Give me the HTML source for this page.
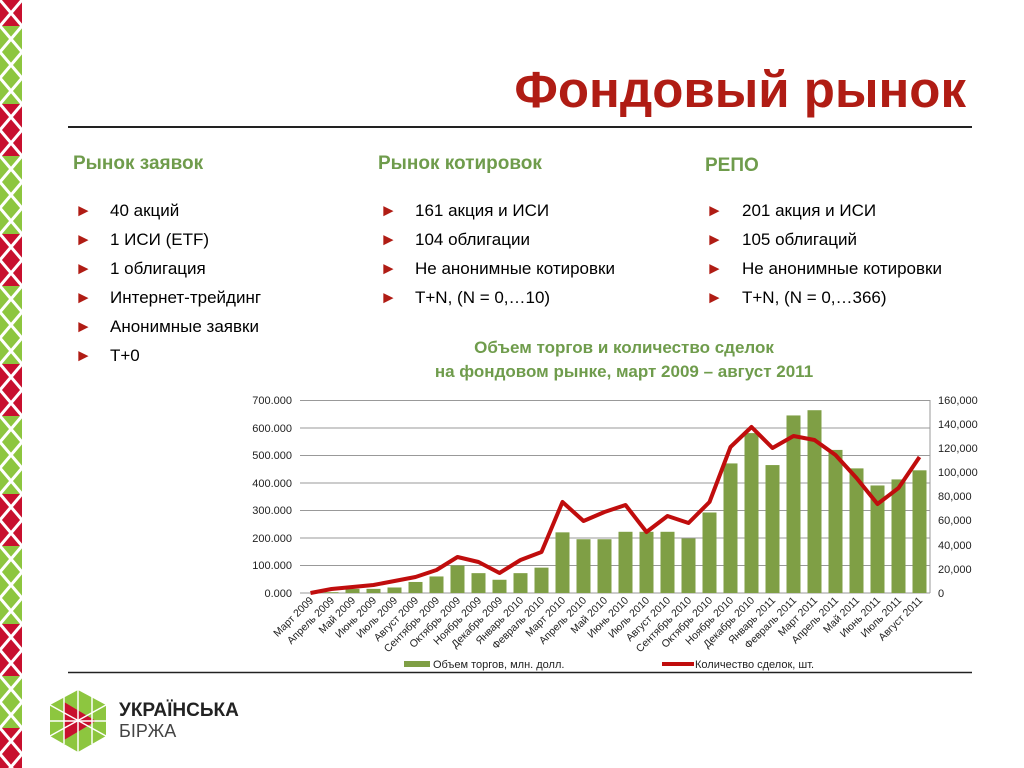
<!DOCTYPE html>
<html><head><meta charset="utf-8"><style>
body{margin:0;width:1024px;height:768px;overflow:hidden;background:#fff;font-family:"Liberation Sans",sans-serif;position:relative}
.t{position:absolute;white-space:nowrap}
.h{color:#6f9c4c;font-weight:bold;font-size:19px}
.li{font-size:17px;color:#000}
.b{color:#b01c14;font-size:17px;position:absolute}
</style></head><body>
<svg width="24" height="768" style="position:absolute;left:0;top:0">
<defs>
<pattern id="zz" width="24" height="52" patternUnits="userSpaceOnUse">
<polyline points="0,0 22,26 0,52" fill="none" stroke="#fff" stroke-width="3"/>
<polyline points="22,0 0,26 22,52" fill="none" stroke="#fff" stroke-width="3"/>
</pattern>
</defs>
<rect x="0" y="0" width="22" height="768" fill="#8dc63f"/>
<rect x="0" y="0" width="22" height="26" fill="#c8102e"/>
<rect x="0" y="104" width="22" height="52" fill="#c8102e"/>
<rect x="0" y="234" width="22" height="52" fill="#c8102e"/>
<rect x="0" y="364" width="22" height="52" fill="#c8102e"/>
<rect x="0" y="494" width="22" height="52" fill="#c8102e"/>
<rect x="0" y="624" width="22" height="52" fill="#c8102e"/>
<rect x="0" y="728" width="22" height="40" fill="#c8102e"/>
<rect x="0" y="0" width="22" height="768" fill="url(#zz)"/>
</svg>
<div class="t" style="right:58px;top:60px;font-size:51px;font-weight:bold;color:#b01c14">Фондовый рынок</div>
<div style="position:absolute;left:68px;top:126px;width:904px;height:2px;background:#222"></div>
<div class="t h" style="left:73px;top:153px">Рынок заявок</div>
<div class="t h" style="left:378px;top:153px">Рынок котировок</div>
<div class="t h" style="left:705px;top:155px">РЕПО</div>

<div class="b" style="left:75px;top:201px">►</div><div class="t li" style="left:110px;top:201px">40 акций</div>
<div class="b" style="left:75px;top:230px">►</div><div class="t li" style="left:110px;top:230px">1 ИСИ (ETF)</div>
<div class="b" style="left:75px;top:259px">►</div><div class="t li" style="left:110px;top:259px">1 облигация</div>
<div class="b" style="left:75px;top:288px">►</div><div class="t li" style="left:110px;top:288px">Интернет-трейдинг</div>
<div class="b" style="left:75px;top:317px">►</div><div class="t li" style="left:110px;top:317px">Анонимные заявки</div>
<div class="b" style="left:75px;top:346px">►</div><div class="t li" style="left:110px;top:346px">T+0</div>

<div class="b" style="left:380px;top:201px">►</div><div class="t li" style="left:415px;top:201px">161 акция и ИСИ</div>
<div class="b" style="left:380px;top:230px">►</div><div class="t li" style="left:415px;top:230px">104 облигации</div>
<div class="b" style="left:380px;top:259px">►</div><div class="t li" style="left:415px;top:259px">Не анонимные котировки</div>
<div class="b" style="left:380px;top:288px">►</div><div class="t li" style="left:415px;top:288px">T+N, (N = 0,…10)</div>

<div class="b" style="left:706px;top:201px">►</div><div class="t li" style="left:742px;top:201px">201 акция и ИСИ</div>
<div class="b" style="left:706px;top:230px">►</div><div class="t li" style="left:742px;top:230px">105 облигаций</div>
<div class="b" style="left:706px;top:259px">►</div><div class="t li" style="left:742px;top:259px">Не анонимные котировки</div>
<div class="b" style="left:706px;top:288px">►</div><div class="t li" style="left:742px;top:288px">T+N, (N = 0,…366)</div>

<div class="t" style="left:324px;width:600px;top:336px;text-align:center;color:#6f9c4c;font-weight:bold;font-size:17px;line-height:24px">Объем торгов и количество сделок<br>на фондовом рынке, март 2009 – август 2011</div>

<svg width="1024" height="768" style="position:absolute;left:0;top:0" font-family="Liberation Sans, sans-serif">
<g stroke="#999" stroke-width="1">
<line x1="300" x2="930" y1="400.5" y2="400.5"/><line x1="300" x2="930" y1="428" y2="428"/>
<line x1="300" x2="930" y1="455.5" y2="455.5"/><line x1="300" x2="930" y1="483" y2="483"/>
<line x1="300" x2="930" y1="510.5" y2="510.5"/><line x1="300" x2="930" y1="538" y2="538"/>
<line x1="300" x2="930" y1="565.5" y2="565.5"/><line x1="300" x2="930" y1="593" y2="593"/>
<line x1="930" x2="930" y1="400" y2="593"/>
</g>
<g font-size="11" fill="#222" text-anchor="end">
<text x="292" y="404">700.000</text><text x="292" y="432">600.000</text><text x="292" y="459">500.000</text>
<text x="292" y="487">400.000</text><text x="292" y="514">300.000</text><text x="292" y="542">200.000</text>
<text x="292" y="569">100.000</text><text x="292" y="597">0.000</text>
</g>
<g font-size="11" fill="#222">
<text x="938" y="404">160,000</text><text x="938" y="428">140,000</text><text x="938" y="452">120,000</text>
<text x="938" y="476">100,000</text><text x="938" y="500">80,000</text><text x="938" y="524">60,000</text>
<text x="938" y="549">40,000</text><text x="938" y="573">20,000</text><text x="938" y="597">0</text>
</g>
<g transform="translate(0,593) scale(1,-0.2757)" fill="#7f9f45">
<rect x="303.5" y="0" width="14" height="0"/><rect x="324.5" y="0" width="14" height="3"/>
<rect x="345.5" y="0" width="14" height="15"/><rect x="366.5" y="0" width="14" height="15"/>
<rect x="387.5" y="0" width="14" height="20"/><rect x="408.5" y="0" width="14" height="40"/>
<rect x="429.5" y="0" width="14" height="60"/><rect x="450.5" y="0" width="14" height="100"/>
<rect x="471.5" y="0" width="14" height="72"/><rect x="492.5" y="0" width="14" height="48"/>
<rect x="513.5" y="0" width="14" height="72"/><rect x="534.5" y="0" width="14" height="92"/>
<rect x="555.5" y="0" width="14" height="220"/><rect x="576.5" y="0" width="14" height="195"/>
<rect x="597.5" y="0" width="14" height="195"/><rect x="618.5" y="0" width="14" height="222"/>
<rect x="639.5" y="0" width="14" height="222"/><rect x="660.5" y="0" width="14" height="222"/>
<rect x="681.5" y="0" width="14" height="198"/><rect x="702.5" y="0" width="14" height="292"/>
<rect x="723.5" y="0" width="14" height="470"/><rect x="744.5" y="0" width="14" height="580"/>
<rect x="765.5" y="0" width="14" height="464"/><rect x="786.5" y="0" width="14" height="644"/>
<rect x="807.5" y="0" width="14" height="663"/><rect x="828.5" y="0" width="14" height="519"/>
<rect x="849.5" y="0" width="14" height="452"/><rect x="870.5" y="0" width="14" height="390"/>
<rect x="891.5" y="0" width="14" height="412"/><rect x="912.5" y="0" width="14" height="445"/>
</g>
<polyline fill="none" stroke="#c00d0d" stroke-width="4" stroke-linejoin="round" points="310.5,593 331.5,589 352.5,587 373.5,585 394.5,581 415.5,577 436.5,570 457.5,557 478.5,562 499.5,573 520.5,560 541.5,552 562.5,502 583.5,521 604.5,512 625.5,505 646.5,532 667.5,516 688.5,523 709.5,502 730.5,447 751.5,427 772.5,448 793.5,436 814.5,440 835.5,455 856.5,478 877.5,504 898.5,488 919.5,457"/>
<g font-size="10.5" fill="#222" text-anchor="end">
<text transform="translate(314,601) rotate(-45)">Март 2009</text>
<text transform="translate(335,601) rotate(-45)">Апрель 2009</text>
<text transform="translate(356,601) rotate(-45)">Май 2009</text>
<text transform="translate(377,601) rotate(-45)">Июнь 2009</text>
<text transform="translate(398,601) rotate(-45)">Июль 2009</text>
<text transform="translate(419,601) rotate(-45)">Август 2009</text>
<text transform="translate(440,601) rotate(-45)">Сентябрь 2009</text>
<text transform="translate(461,601) rotate(-45)">Октябрь 2009</text>
<text transform="translate(482,601) rotate(-45)">Ноябрь 2009</text>
<text transform="translate(503,601) rotate(-45)">Декабрь 2009</text>
<text transform="translate(524,601) rotate(-45)">Январь 2010</text>
<text transform="translate(545,601) rotate(-45)">Февраль 2010</text>
<text transform="translate(566,601) rotate(-45)">Март 2010</text>
<text transform="translate(587,601) rotate(-45)">Апрель 2010</text>
<text transform="translate(608,601) rotate(-45)">Май 2010</text>
<text transform="translate(629,601) rotate(-45)">Июнь 2010</text>
<text transform="translate(650,601) rotate(-45)">Июль 2010</text>
<text transform="translate(671,601) rotate(-45)">Август 2010</text>
<text transform="translate(692,601) rotate(-45)">Сентябрь 2010</text>
<text transform="translate(713,601) rotate(-45)">Октябрь 2010</text>
<text transform="translate(734,601) rotate(-45)">Ноябрь 2010</text>
<text transform="translate(755,601) rotate(-45)">Декабрь 2010</text>
<text transform="translate(776,601) rotate(-45)">Январь 2011</text>
<text transform="translate(797,601) rotate(-45)">Февраль 2011</text>
<text transform="translate(818,601) rotate(-45)">Март 2011</text>
<text transform="translate(839,601) rotate(-45)">Апрель 2011</text>
<text transform="translate(860,601) rotate(-45)">Май 2011</text>
<text transform="translate(881,601) rotate(-45)">Июнь 2011</text>
<text transform="translate(902,601) rotate(-45)">Июль 2011</text>
<text transform="translate(923,601) rotate(-45)">Август 2011</text>
</g>
<rect x="404" y="661" width="26" height="6" fill="#7f9f45"/>
<text x="433" y="668" font-size="11" fill="#222">Объем торгов, млн. долл.</text>
<line x1="662" y1="664" x2="694" y2="664" stroke="#c00d0d" stroke-width="4"/>
<text x="695" y="668" font-size="11" fill="#222">Количество сделок, шт.</text>
<line x1="68" y1="672.5" x2="972" y2="672.5" stroke="#222" stroke-width="1.5"/>
<g transform="translate(48,690)">
<polygon points="30,0 58,15 58,46 30,62 2,46 2,15" fill="#8dc63f"/>
<polygon points="16,12 48,31 16,50" fill="#c8102e"/>
<g stroke="#fff" stroke-width="1.5">
<line x1="2" y1="15" x2="58" y2="46"/><line x1="2" y1="46" x2="58" y2="15"/>
<line x1="16" y1="7" x2="16" y2="54"/><line x1="30" y1="0" x2="30" y2="62"/><line x1="44" y1="7" x2="44" y2="54"/>
<line x1="2" y1="31" x2="58" y2="31"/>
</g>
</g>
<text x="119" y="716" font-size="19" font-weight="bold" fill="#222">УКРАЇНСЬКА</text>
<text x="119" y="737" font-size="18" fill="#444">БІРЖА</text>
</svg>
</body></html>
